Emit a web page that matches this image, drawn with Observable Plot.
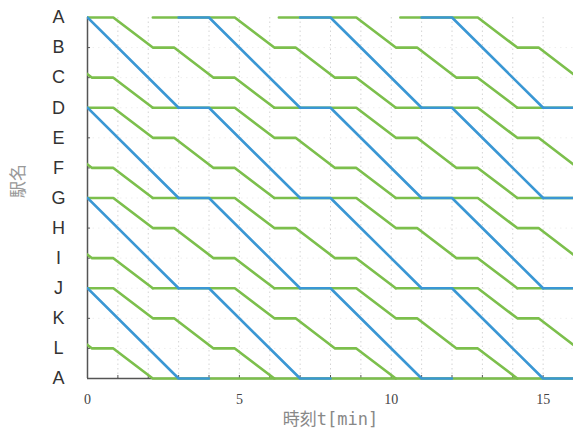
<!DOCTYPE html>
<html><head><meta charset="utf-8">
<script src="https://cdn.jsdelivr.net/npm/d3@7"></script>
<script src="https://cdn.jsdelivr.net/npm/@observablehq/plot@0.6"></script>
<style>body{margin:0;background:#fff}</style>
</head><body><div id="chart"></div>
<script>
// Station order (loop line: A at top and again at bottom)
const stations = ["A","B","C","D","E","F","G","H","I","J","K","L","A"];
const stationIdx = [0,1,2,3,4,5,6,7,8,9,10,11,12];
const majorStations = [0,3,6,9];           // A, D, G, J (express stops)
const xTickLabels = [0,5,10,15];
const minuteTicks = [0,1,2,3,4,5,6,7,8,9,10,11,12,13,14,15,16];

// Express (blue): departs a major station, reaches the next one 3 min later, dwells 1 min
const expressRun = 3;
const expressDwell = 1;
const expressDepFromA = [0,4,8,12];
const expressDepFromOther = [0,4,8,12,16];

// Local (green): stop pattern relative to departure from a major station
const localOffsets = [0, 1.3, 2.0, 3.3, 4.0, 5.3];
const localSteps   = [0, 1,   1,   2,   2,   3];
const localDepFromA = [-3.15, 0.85, 4.85, 8.85, 12.85];
const localArrTopA  = [-5.85, -1.85, 2.15, 6.3, 10.3];
const localDepFromOther = [-3.15, 0.85, 4.85, 8.85, 12.85, 16.85];
const localWait = 2.7;          // waiting at major station to be overtaken
const localBottomDwell = 4;     // stays on bottom A line

const blue = "#3a97d4", green = "#7cbf4c";

// build tables
const expressRows = [];
majorStations.forEach(s => {
  const deps = s === 0 ? expressDepFromA : expressDepFromOther;
  deps.forEach(d => {
    const id = `E${s}_${d}`;
    expressRows.push({id, t: d - expressDwell, s});
    expressRows.push({id, t: d, s});
    expressRows.push({id, t: d + expressRun, s: s + 3});
    if (s === 9) expressRows.push({id, t: d + expressRun + expressDwell, s: 12});
  });
});
const localRows = [];
majorStations.forEach(s => {
  const deps = s === 0 ? localDepFromA : localDepFromOther;
  deps.forEach((d, i) => {
    const id = `L${s}_${d}`;
    const arr = s === 0 ? localArrTopA[i] : d - localWait;
    localRows.push({id, t: arr, s});
    localOffsets.forEach((o, k) => localRows.push({id, t: d + o, s: s + localSteps[k]}));
    if (s === 9) localRows.push({id, t: d + localOffsets[5] + localBottomDwell, s: 12});
  });
});

const chart = Plot.plot({
  width: 573, height: 433,
  marginLeft: 87, marginRight: 0, marginTop: 14, marginBottom: 52,
  x: {domain: [0, 16], insetLeft: 0, insetRight: 0},
  y: {domain: [0, 12], reverse: true, insetTop: 3, insetBottom: 3},
  style: {background: "#fff"},
  marks: [
    Plot.ruleX(minuteTicks.slice(1), {y1: 0, y2: 12, stroke: "#d4d4d4", strokeDasharray: "1.5,3", strokeWidth: 1}),
    Plot.ruleY(stationIdx.slice(1, 12), {x1: 0, x2: 16, stroke: "#eeeeee", strokeDasharray: "1.5,4", strokeWidth: 1}),
    Plot.ruleX(minuteTicks, {y1: 12, y2: 11.9, stroke: "#555", strokeWidth: 1}),
    Plot.ruleY(stationIdx, {x1: 0, x2: 0.1, stroke: "#555", strokeWidth: 1}),
    Plot.ruleY([12], {x1: 0, x2: 16, stroke: "#555", strokeWidth: 1.5}),
    Plot.ruleX([0], {y1: 0, y2: 12, stroke: "#555", strokeWidth: 1.5}),
    Plot.line(localRows, {x: "t", y: "s", z: "id", stroke: green, strokeWidth: 2.6, clip: true}),
    Plot.line(expressRows, {x: "t", y: "s", z: "id", stroke: blue, strokeWidth: 2.6, clip: true}),
    Plot.axisY(stationIdx, {tickSize: 0, tickPadding: 0, tickFormat: i => stations[i], textAnchor: "middle", dx: -29,
      fontSize: 18, fontFamily: "Liberation Sans", fill: "#333", label: null}),
    Plot.axisX(xTickLabels, {tickSize: 0, tickPadding: 13, fontSize: 14, fontFamily: "Liberation Serif", fill: "#444", label: null}),
    Plot.text(["駅名"], {frameAnchor: "left", dx: -69, rotate: -90, fontSize: 17, fill: "#999", fontFamily: "Noto Sans CJK JP"}),
    Plot.text(["時刻t[min]"], {frameAnchor: "bottom", dy: 43, fontSize: 17, fill: "#888", fontFamily: "'DejaVu Sans Mono', 'Noto Sans CJK JP'"})
  ]
});
document.getElementById("chart").appendChild(chart);
</script>
</body></html>
